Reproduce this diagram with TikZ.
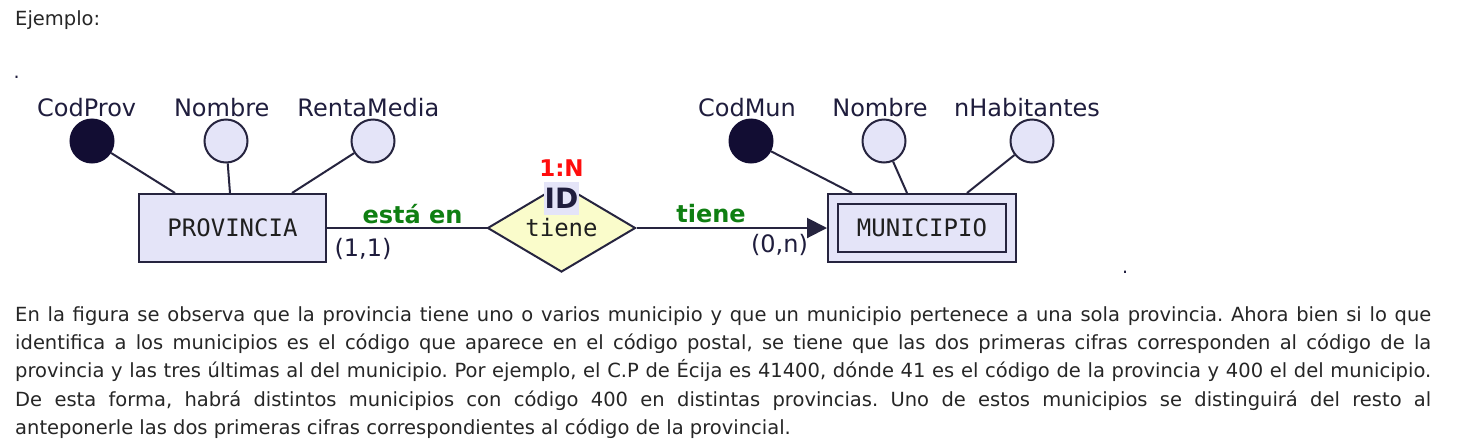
\documentclass[tikz,border=0pt]{standalone}
\usepackage{fontspec}
\setmainfont{DejaVu Sans}
\newfontfamily\dmono{DejaVu Sans Mono}
\usetikzlibrary{shapes.geometric,arrows.meta,calc}
\definecolor{boxfill}{HTML}{E4E4F8}
\definecolor{strokec}{HTML}{26243F}
\definecolor{keyfill}{HTML}{120D33}
\definecolor{relfill}{HTML}{FAFCCB}
\definecolor{navytxt}{HTML}{1F1D3D}
\definecolor{greentxt}{HTML}{0F7F12}
\definecolor{redtxt}{HTML}{FF0D0D}
\definecolor{bodyc}{HTML}{262626}
\tikzset{
  entity/.style={draw=strokec, fill=boxfill, line width=2pt, inner sep=0pt,
    minimum width=187pt, minimum height=68pt, text=black!88,
    font=\dmono\fontsize{24}{28}\selectfont},
  innerent/.style={draw=strokec, line width=2pt, inner sep=0pt,
    minimum width=168pt, minimum height=48pt, text=black!88,
    font=\dmono\fontsize{24}{28}\selectfont},
  attr/.style={circle, draw=strokec, fill=boxfill, line width=2pt, inner sep=0pt, minimum size=43pt},
  keyattr/.style={attr, draw=keyfill, fill=keyfill},
  rel/.style={diamond, draw=strokec, fill=relfill, line width=2pt, inner sep=0pt, aspect=1.65,
    minimum width=148pt, minimum height=88pt, text=black!88,
    font=\dmono\fontsize{24}{28}\selectfont},
  link/.style={draw=strokec, line width=2pt},
  lbl/.style={inner sep=0pt, anchor=base, text=navytxt, font=\fontsize{24}{28}\selectfont},
  rolelbl/.style={inner sep=0pt, anchor=base, text=greentxt, font=\bfseries\fontsize{24}{28}\selectfont},
  cardlbl/.style={inner sep=0pt, anchor=base, text=navytxt, font=\fontsize{24}{28}\selectfont},
  bodytxt/.style={inner sep=0pt, anchor=base west, text=bodyc, font=\fontsize{19.5}{28}\selectfont\frenchspacing},
  dotlbl/.style={inner sep=0pt, anchor=base west, text=navytxt, font=\fontsize{19}{28}\selectfont},
}
\begin{document}
\begin{tikzpicture}[x=1pt,y=-1pt]
\useasboundingbox (0,0) rectangle (1464,445);
\fill[white] (0,0) rectangle (1464,445);

% heading and dots
\node[bodytxt] (ej) at (15,25) {Ejemplo:};
\node[dotlbl] (dot1) at (13.5,78) {.};
\node[dotlbl] (dot2) at (1122,273) {.};

% entities
\node[entity] (prov) at (232.5,228) {PROVINCIA};
\node[entity, minimum width=188pt] (muni) at (922,228) {};
\node[innerent] (munin) at (922,228) {MUNICIPIO};

% relationship
\node[rel] (rel) at (561.5,228) {tiene};
\node[inner sep=0pt, fill=boxfill, minimum width=35pt, minimum height=33pt, text=navytxt,
      font=\bfseries\fontsize{28}{32}\selectfont] (idl) at (561.5,198.5) {ID};
\node[inner sep=0pt, anchor=base, text=redtxt, font=\bfseries\fontsize{23}{27}\selectfont] (card) at (561.5,176) {1:N};

% attributes of PROVINCIA
\node[keyattr] (cp) at (92,141) {};
\node[attr] (np) at (226,141) {};
\node[attr] (rm) at (373,141) {};
\node[lbl] (lcp) at (86.7,116) {CodProv};
\node[lbl] (lnp) at (221.7,116) {Nombre};
\node[lbl] (lrm) at (368.3,116) {RentaMedia};
\draw[link] (cp) -- ($(prov.north west)+(37,0)$);
\draw[link] (np) -- ($(prov.north west)+(92,0)$);
\draw[link] (rm) -- ($(prov.north west)+(154,0)$);

% attributes of MUNICIPIO
\node[keyattr] (cm) at (751,141) {};
\node[attr] (nm) at (884,141) {};
\node[attr] (nh) at (1032,141) {};
\node[lbl] (lcm) at (747,116) {CodMun};
\node[lbl] (lnm) at (880,116) {Nombre};
\node[lbl] (lnh) at (1027,116) {nHabitantes};
\draw[link] (cm) -- ($(muni.north west)+(25,0)$);
\draw[link] (nm) -- ($(muni.north west)+(80,0)$);
\draw[link] (nh) -- ($(muni.north west)+(140,0)$);

% connectors
\draw[link] (prov.east) -- (rel.west);
\draw[link, -{Triangle[length=20pt,width=20pt]}] (rel.east) -- (muni.west);
\node[rolelbl] (r1) at (412.5,223) {está en};
\node[rolelbl] (r2) at (711,222) {tiene};
\node[cardlbl] (c1) at (363,256.5) {(1,1)};
\node[cardlbl] (c2) at (779.5,252.5) {(0,n)};

% paragraph
\node[bodytxt] (p1) at (15,321.7) {\makebox[1416pt][s]{En la figura se observa que la provincia tiene uno o varios municipio y que un municipio pertenece a una sola provincia. Ahora bien si lo que}};
\node[bodytxt] (p2) at (15,349.8) {\makebox[1416pt][s]{identifica a los municipios es el código que aparece en el código postal, se tiene que las dos primeras cifras corresponden al código de la}};
\node[bodytxt] (p3) at (15,377.9) {\makebox[1416pt][s]{provincia y las tres últimas al del municipio. Por ejemplo, el C.P de Écija es 41400, dónde 41 es el código de la provincia y 400 el del municipio.}};
\node[bodytxt] (p4) at (15,406) {\makebox[1416pt][s]{De esta forma, habrá distintos municipios con código 400 en distintas provincias. Uno de estos municipios se distinguirá del resto al}};
\node[bodytxt] (p5) at (15,434.1) {anteponerle las dos primeras cifras correspondientes al código de la provincial.};
\end{tikzpicture}
\end{document}
